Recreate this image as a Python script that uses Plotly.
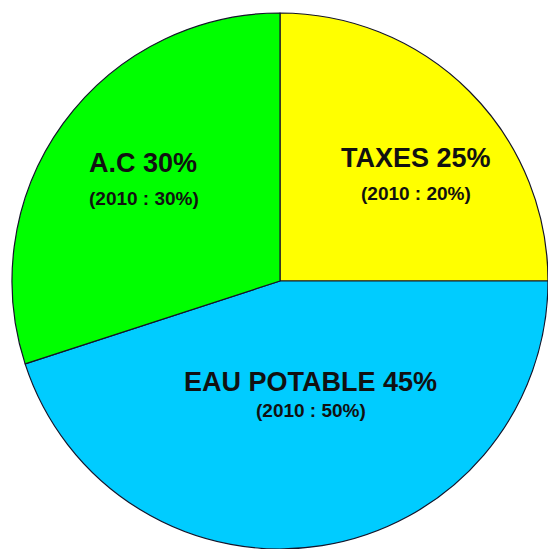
import plotly.graph_objects as go

# Budget shares (current year) and the 2010 reference shares
labels = ["TAXES", "EAU POTABLE", "A.C"]
shares = [25, 45, 30]
shares_2010 = [20, 50, 30]
colors = ["#FFFF00", "#00CCFF", "#00FF00"]

# Label anchor points in paper coordinates (title line, sub line)
title_pos = [(0.759, 0.712), (0.566, 0.304), (0.261, 0.703)]
sub_pos = [(0.759, 0.648), (0.568, 0.253), (0.262, 0.639)]

W, H = 548, 549

fig = go.Figure(
    go.Pie(
        labels=labels,
        values=shares,
        marker=dict(colors=colors, line=dict(color="#14142a", width=1.2)),
        sort=False,
        direction="clockwise",
        rotation=0,
        textinfo="none",
        showlegend=False,
        domain=dict(x=[12 / W, 1.0], y=[0.0, 536 / H]),
    )
)

font_family = "Liberation Sans, Arial, sans-serif"
annotations = []
for lab, v, v0, (tx, ty), (sx, sy) in zip(labels, shares, shares_2010, title_pos, sub_pos):
    annotations.append(dict(
        x=tx, y=ty, xref="paper", yref="paper", showarrow=False,
        text=f"<b>{lab} {v}%</b>",
        font=dict(family=font_family, size=27, color="#111111"),
        xanchor="center", yanchor="middle",
    ))
    annotations.append(dict(
        x=sx, y=sy, xref="paper", yref="paper", showarrow=False,
        text=f"<b>(2010 : {v0}%)</b>",
        font=dict(family=font_family, size=19, color="#111111"),
        xanchor="center", yanchor="middle",
    ))

fig.update_layout(
    width=W, height=H,
    margin=dict(l=0, r=0, t=0, b=0),
    paper_bgcolor="white",
    plot_bgcolor="white",
    annotations=annotations,
)

fig.write_html("out.html")
